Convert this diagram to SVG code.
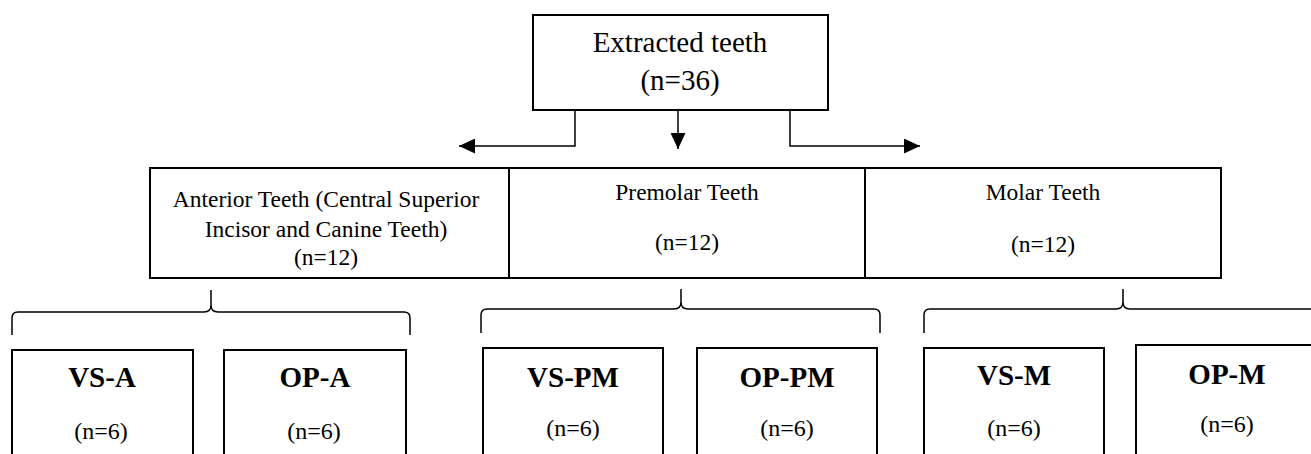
<svg xmlns="http://www.w3.org/2000/svg" width="1311" height="454" viewBox="0 0 1311 454">
<style>
  .box { fill: #fff; stroke: #000; stroke-width: 2; }
  .t { font-family: "Liberation Serif", "Times New Roman", serif; fill: #000; text-anchor: middle; }
  .big { font-size: 29px; }
  .mid { font-size: 23.5px; }
  .lab { font-size: 29px; font-weight: bold; }
  .n6 { font-size: 24px; }
  .conn { fill: none; stroke: #000; stroke-width: 1.5; }
</style>
<defs>
  <marker id="arr" markerUnits="userSpaceOnUse" markerWidth="16" markerHeight="15" refX="16" refY="7.5" orient="auto">
    <path d="M0,0 L16,7.5 L0,15 z" fill="#000"/>
  </marker>
</defs>
<rect width="1311" height="454" fill="#fff"/>

<g id="root">
  <rect class="box" x="533" y="15" width="295" height="95"/>
  <text class="t big" x="680" y="52">Extracted teeth</text>
  <text class="t big" x="680" y="90">(n=36)</text>
</g>

<g id="connectors">
  <path class="conn" d="M575,110 L575,146 L459,146" marker-end="url(#arr)"/>
  <path class="conn" d="M678,110 L678,149" marker-end="url(#arr)"/>
  <path class="conn" d="M790,110 L790,146 L920,146" marker-end="url(#arr)"/>
  <path class="conn" d="M12,335 L12,318 Q12,312 18,312 L204,312 Q211,312 211,305 L211,290 M211,305 Q211,312 218,312 L404,312 Q410,312 410,318 L410,335"/>
  <path class="conn" d="M481,333 L481,315 Q481,309 487,309 L674,309 Q681,309 681,302 L681,289 M681,302 Q681,309 688,309 L874,309 Q880,309 880,315 L880,333"/>
  <path class="conn" d="M924,333 L924,315 Q924,309 930,309 L1116,309 Q1123,309 1123,302 L1123,289 M1123,302 Q1123,309 1130,309 L1316,309 Q1322,309 1322,315 L1322,333"/>
</g>

<g id="anterior">
  <rect class="box" x="150" y="168" width="359" height="110"/>
  <text class="t mid" x="326" y="207">Anterior Teeth (Central Superior</text>
  <text class="t mid" x="326" y="237">Incisor and Canine Teeth)</text>
  <text class="t mid" x="326" y="265">(n=12)</text>
</g>

<g id="premolar">
  <rect class="box" x="509" y="168" width="356" height="110"/>
  <text class="t mid" x="687" y="200">Premolar Teeth</text>
  <text class="t mid" x="687" y="250">(n=12)</text>
</g>

<g id="molar">
  <rect class="box" x="865" y="168" width="356" height="110"/>
  <text class="t mid" x="1043" y="200">Molar Teeth</text>
  <text class="t mid" x="1043" y="252">(n=12)</text>
</g>

<g id="vs-a">
  <rect class="box" x="12" y="350" width="181" height="120"/>
  <text class="t lab" x="102" y="387">VS-A</text>
  <text class="t n6" x="101" y="439">(n=6)</text>
</g>

<g id="op-a">
  <rect class="box" x="224" y="350" width="182" height="120"/>
  <text class="t lab" x="315" y="387">OP-A</text>
  <text class="t n6" x="314" y="439">(n=6)</text>
</g>

<g id="vs-pm">
  <rect class="box" x="483" y="348" width="180" height="120"/>
  <text class="t lab" x="573" y="387">VS-PM</text>
  <text class="t n6" x="573" y="436">(n=6)</text>
</g>

<g id="op-pm">
  <rect class="box" x="697" y="348" width="180" height="120"/>
  <text class="t lab" x="787" y="387">OP-PM</text>
  <text class="t n6" x="787" y="436">(n=6)</text>
</g>

<g id="vs-m">
  <rect class="box" x="924" y="348" width="180" height="120"/>
  <text class="t lab" x="1014" y="385">VS-M</text>
  <text class="t n6" x="1014" y="436">(n=6)</text>
</g>

<g id="op-m">
  <rect class="box" x="1136" y="345" width="180" height="120"/>
  <text class="t lab" x="1227" y="384">OP-M</text>
  <text class="t n6" x="1227" y="432">(n=6)</text>
</g>
</svg>
